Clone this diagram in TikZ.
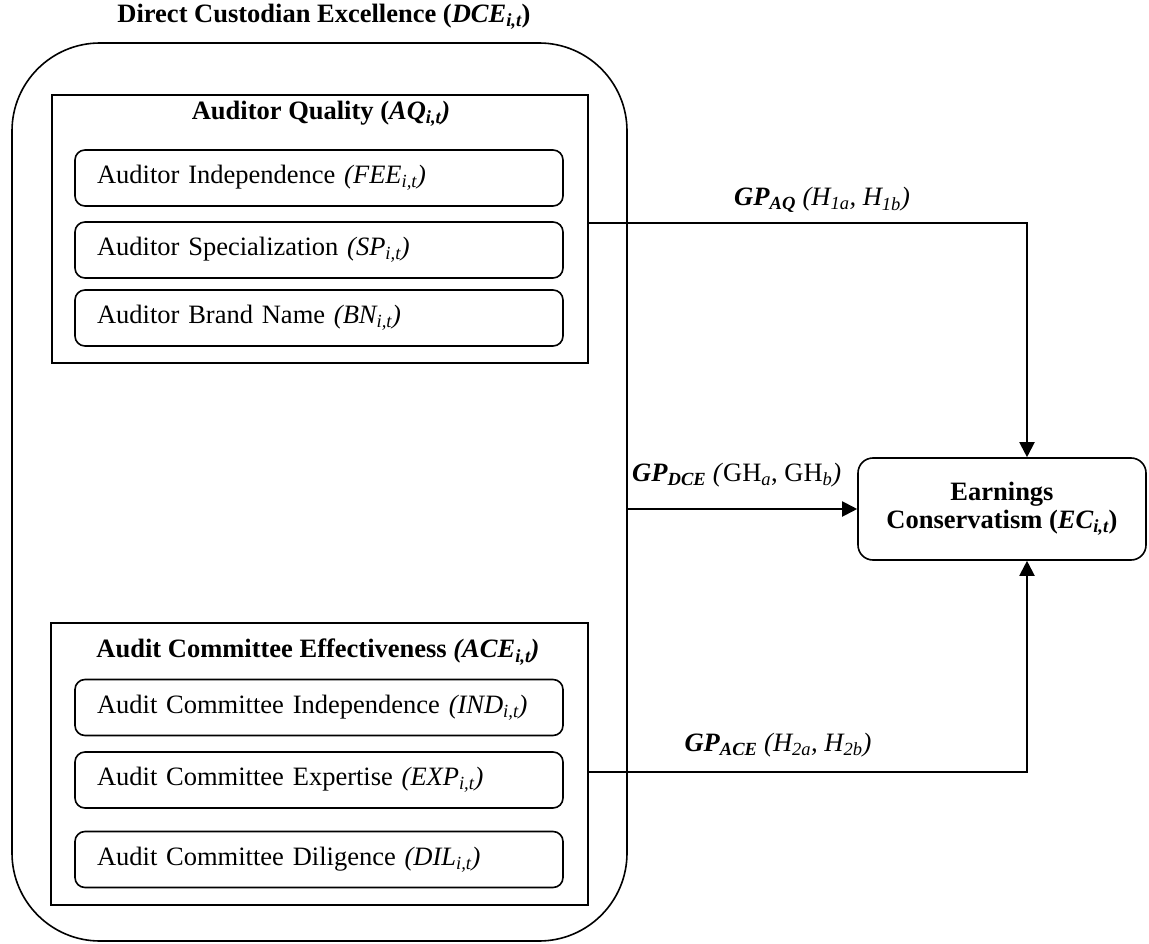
\documentclass[tikz,border=0pt]{standalone}
\usepackage{fontspec}
\setmainfont{Liberation Serif}
\usetikzlibrary{arrows.meta}
\begin{document}
\begin{tikzpicture}[x=1pt,y=-1pt,
  every node/.style={font=\fontsize{26.5}{31}\selectfont},
  frame/.style={draw, line width=1.6pt, inner sep=0pt},
  item/.style={draw, line width=1.6pt, rounded corners=10pt, minimum height=56pt,
    text width=444pt, inner xsep=22pt, inner ysep=0pt, align=left},
  arr/.style={line width=2pt, -{Triangle[length=15pt,width=15pt]}},
  lbl/.style={inner sep=0pt}]
\useasboundingbox (0,0) rectangle (1149,944);

% outer container
\node[frame, rounded corners=88pt, minimum width=615pt, minimum height=898pt] (dce) at (319.5,492) {};
\node[lbl] (dcet) at (324,17) {\textbf{Direct Custodian Excellence (\textit{DCE\textsubscript{i,t}})}};

% Auditor Quality
\node[frame, minimum width=536pt, minimum height=268pt] (aq) at (320,229) {};
\node[lbl] (aqt) at (321,114) {\textbf{Auditor Quality (\textit{AQ\textsubscript{i,t})}}};
\node[item] (fee) at (319,178) {Auditor Independence \textit{(FEE\textsubscript{i,t})}};
\node[item] (sp)  at (319,250) {Auditor Specialization \textit{(SP\textsubscript{i,t})}};
\node[item] (bn)  at (319,318) {Auditor Brand Name \textit{(BN\textsubscript{i,t})}};

% Audit Committee Effectiveness
\node[frame, minimum width=537pt, minimum height=282pt] (ace) at (319.5,764) {};
\node[lbl] (acet) at (318,652) {\textbf{Audit Committee Effectiveness \textit{(ACE\textsubscript{i,t})}}};
\node[item] (ind) at (319,707.5) {Audit Committee Independence \textit{(IND\textsubscript{i,t})}};
\node[item] (exp) at (319,780) {Audit Committee Expertise \textit{(EXP\textsubscript{i,t})}};
\node[item] (dil) at (319,859.5) {Audit Committee Diligence \textit{(DIL\textsubscript{i,t})}};

% Earnings Conservatism
\node[draw, line width=1.6pt, rounded corners=15pt, minimum width=288pt, minimum height=102pt,
  align=center, inner sep=0pt] (ec) at (1002,509)
  {\textbf{Earnings}\\[-3pt]\textbf{Conservatism (\textit{EC\textsubscript{i,t}})}};

% connectors
\coordinate (aqturn) at (1027,223);
\coordinate (aceturn) at (1027,772);
\draw[arr] (aq.east |- aqturn) -- (aqturn) -- (aqturn |- ec.north);
\draw[arr] (dce.east |- ec.west) -- (ec.west);
\draw[arr] (ace.east |- aceturn) -- (aceturn) -- (aceturn |- ec.south);

% labels
\node[lbl] (lab1) at (822,200) {\textbf{\textit{GP}}\textsubscript{\textbf{\textit{AQ}}} \textit{(H\textsubscript{1a}, H\textsubscript{1b})}};
\node[lbl, anchor=west] (lab2) at (632,475) {\textbf{\textit{GP}}\textsubscript{\textbf{\textit{DCE}}} \textit{(}GH\textsubscript{\textit{a}}, GH\textsubscript{\textit{b}}\textit{)}};
\node[lbl] (lab3) at (778,745) {\textbf{\textit{GP}}\textsubscript{\textbf{\textit{ACE}}} \textit{(H\textsubscript{2a}, H\textsubscript{2b})}};
\end{tikzpicture}
\end{document}
